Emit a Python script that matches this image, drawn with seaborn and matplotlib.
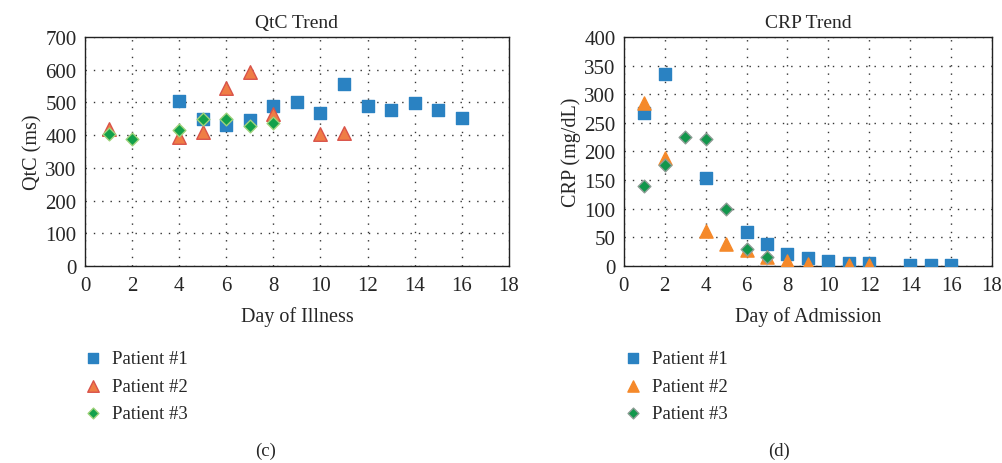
import matplotlib
matplotlib.use("Agg")
import matplotlib.pyplot as plt
import seaborn as sns
import pandas as pd

# QtC data (day of illness)
qtc_p1_day = [4, 5, 6, 7, 8, 9, 10, 11, 12, 13, 14, 15, 16]
qtc_p1_val = [505, 450, 430, 445, 490, 500, 468, 555, 490, 477, 497, 477, 453]
qtc_p2_day = [1, 4, 5, 6, 7, 8, 10, 11]
qtc_p2_val = [418, 395, 410, 545, 592, 465, 405, 408]
qtc_p3_day = [1, 2, 4, 5, 6, 7, 8]
qtc_p3_val = [405, 387, 415, 450, 450, 428, 438]

# CRP data (day of admission)
crp_p1_day = [1, 2, 4, 6, 7, 8, 9, 10, 11, 12, 14, 15, 16]
crp_p1_val = [268, 335, 153, 60, 38, 21, 14, 9, 5, 5, 2, 2, 1]
crp_p2_day = [1, 2, 4, 5, 6, 7, 8, 9, 11, 12]
crp_p2_val = [285, 188, 61, 38, 28, 15, 8, 4, 2, 2]
crp_p3_day = [1, 2, 3, 4, 5, 6, 7]
crp_p3_val = [140, 177, 225, 222, 99, 30, 15]

patients = ["Patient #1", "Patient #2", "Patient #3"]

sns.set_style("white")
plt.rcParams["font.family"] = ["Liberation Serif", "DejaVu Serif"]


def make_df(days, vals):
    rows = []
    for name, d, v in zip(patients, days, vals):
        rows.append(pd.DataFrame({"day": d, "value": v, "patient": name}))
    return pd.concat(rows, ignore_index=True)


qtc_df = make_df([qtc_p1_day, qtc_p2_day, qtc_p3_day],
                 [qtc_p1_val, qtc_p2_val, qtc_p3_val])
crp_df = make_df([crp_p1_day, crp_p2_day, crp_p3_day],
                 [crp_p1_val, crp_p2_val, crp_p3_val])

fig = plt.figure(figsize=(10.03, 4.64), dpi=100)
ax1 = fig.add_axes([0.0847, 0.4246, 0.4227, 0.4935])
ax2 = fig.add_axes([0.622, 0.4246, 0.367, 0.4935])

# per-panel styling: marker, size, face, edge
left_style = [("s", 80, "#2a82c2", "#2a82c2"),
              ("^", 95, "#ef7d45", "#d9534a"),
              ("D", 42, "#12a04a", "#9ed27a")]
right_style = [("s", 80, "#2a82c2", "#2a82c2"),
               ("^", 90, "#f5892a", "#f5892a"),
               ("D", 42, "#12974c", "#8c9c94")]


def draw(ax, df, styles, title, xlabel, ylabel, ymax, ystep):
    for name, (mk, s, fc, ec) in zip(patients, styles):
        sub = df[df["patient"] == name]
        sns.scatterplot(data=sub, x="day", y="value", marker=mk, s=s,
                        color=fc, edgecolor=ec, linewidth=1.0, ax=ax,
                        label=name, zorder=3)
    ax.set_xlim(0, 18)
    ax.set_ylim(0, ymax)
    ax.set_xticks(range(0, 19, 2))
    ax.set_yticks(range(0, ymax + 1, ystep))
    ax.tick_params(axis="both", length=0, labelsize=15)
    ax.tick_params(axis="x", pad=7)
    ax.tick_params(axis="y", pad=6)
    ax.grid(True, linestyle=(0, (1, 5)), color="#333333", linewidth=1.0)
    for sp in ax.spines.values():
        sp.set_color("#222222")
        sp.set_linewidth(1.0)
    ax.set_title(title, fontsize=14, pad=7)
    ax.set_xlabel(xlabel, fontsize=14.5, labelpad=8)
    ax.set_ylabel(ylabel, fontsize=14.5, labelpad=2)
    ax.legend(loc="upper left", bbox_to_anchor=(-0.025, -0.335), frameon=False,
              fontsize=13.5, handletextpad=0.4, labelspacing=0.55,
              borderaxespad=0, handlelength=1.2, markerscale=0.85)


draw(ax1, qtc_df, left_style, "QtC Trend", "Day of Illness", "QtC (ms)", 700, 100)
draw(ax2, crp_df, right_style, "CRP Trend", "Day of Admission", "CRP (mg/dL)", 400, 50)

fig.text(0.265, 0.018, "(c)", fontsize=13.5, ha="center")
fig.text(0.777, 0.018, "(d)", fontsize=13.5, ha="center")

fig.savefig("out.png", dpi=100)
